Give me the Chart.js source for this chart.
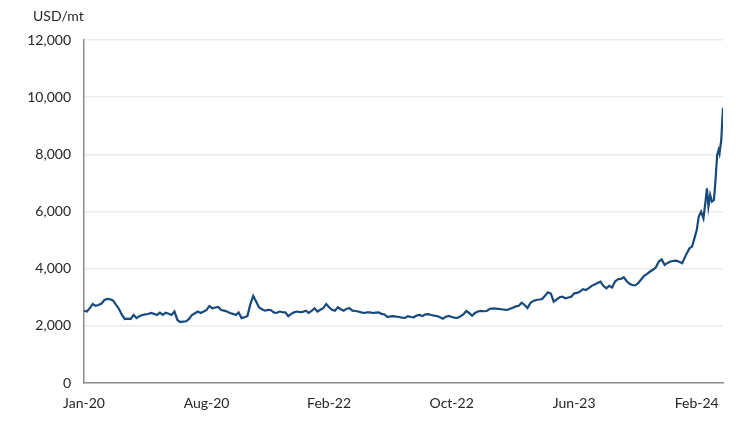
<!DOCTYPE html>
<html>
<head>
<meta charset="utf-8">
<script src="https://cdn.jsdelivr.net/npm/chart.js@4"></script>
<style>
html,body{margin:0;padding:0;background:#fff;}
#wrap{width:750px;height:422px;position:relative;}
</style>
</head>
<body>
<div id="wrap"><canvas id="c"></canvas></div>
<script>
// Week index since Jan-2020 (x position) and cocoa price (USD/mt)
const weeks = [
  0,1,2,3,4,5,6,7,8,9,10,11,12,13,14,15,16,17,18,19,
  20,21,22,23,24,25,26,27,28,29,30,31,32,33,34,35,36,37,38,39,
  40,41,42,43,44,45,46,47,48,49,50,51,52,53,54,55,56,57,58,59,
  60,61,62,63,64,65,66,67,68,69,70,71,72,73,74,75,76,77,78,79,
  80,81,82,83,84,85,86,87,88,89,90,91,92,93,94,95,96,97,98,99,
  100,101,102,103,104,105,106,107,108,109,110,111,112,113,114,115,116,117,118,119,
  120,121,122,123,124,125,126,127,128,129,130,131,132,133,134,135,136,137,138,139,
  140,141,142,143,144,145,146,147,148,149,150,151,152,153,154,155,156,157,158,159,
  160,161,162,163,164,165,166,167,168,169,170,171,172,173,174,175,176,177,178,179,
  180,181,182,183,184,185,186,187,188,189,190,191,192,193,194,195,196,197,198,199,
  200,201,202,203,204,205,206.4,207.5,208.4,209.2,210,210.7,211.5,212.3,213,213.5,214,214.6,215.2,215.9,
  216.4,217,217.5,217.8,218.4,219
];
const prices = [
  2530,2500,2620,2765,2700,2730,2780,2905,2940,2930,2880,2730,2590,2380,2240,2250,2240,2380,2270,2340,
  2380,2400,2415,2450,2420,2380,2460,2380,2460,2420,2380,2500,2205,2135,2150,2160,2240,2380,2440,2500,
  2450,2500,2555,2695,2615,2640,2660,2555,2530,2500,2450,2420,2380,2470,2270,2300,2340,2750,3045,2850,
  2640,2580,2530,2560,2555,2470,2450,2500,2480,2470,2340,2420,2470,2500,2480,2490,2530,2450,2520,2615,
  2500,2560,2615,2765,2650,2560,2530,2650,2580,2530,2600,2615,2530,2520,2500,2470,2450,2470,2470,2450,
  2460,2470,2420,2400,2310,2330,2340,2320,2310,2290,2280,2340,2310,2300,2360,2380,2340,2400,2410,2380,
  2360,2345,2300,2250,2320,2345,2310,2290,2275,2330,2400,2520,2450,2350,2450,2500,2520,2510,2520,2590,
  2610,2600,2590,2580,2570,2555,2600,2635,2680,2700,2810,2730,2620,2800,2870,2905,2920,2940,3050,3170,
  3130,2845,2925,3000,3020,2960,2990,3020,3135,3150,3200,3280,3255,3320,3400,3450,3500,3545,3400,3310,
  3400,3340,3550,3630,3640,3700,3560,3470,3420,3420,3500,3630,3750,3820,3900,3960,4050,4250,4325,4130,
  4200,4250,4270,4280,4245,4190,4500,4710,4770,5060,5350,5820,5995,5760,6345,6810,6170,6580,6345,6405,
  7045,7980,8155,8035,8500,9630
];
const tickWeeks = [0, 42, 84, 126, 168, 210];
const tickLabels = ['Jan-20', 'Aug-20', 'Feb-22', 'Oct-22', 'Jun-23', 'Feb-24'];
const unitLabel = 'USD/mt';

const FONT = 'Lato, "Open Sans", sans-serif';
const TXT = '#262626';

const unitPlugin = {
  id: 'unitLabel',
  afterDraw(chart) {
    const ctx = chart.ctx;
    ctx.save();
    ctx.font = '14px ' + FONT;
    ctx.fillStyle = TXT;
    ctx.textAlign = 'left';
    ctx.textBaseline = 'middle';
    ctx.fillText(unitLabel, 33, 16);
    ctx.restore();
  }
};

new Chart(document.getElementById('c'), {
  type: 'line',
  data: {
    datasets: [{
      data: weeks.map((w, i) => ({ x: w, y: prices[i] })),
      borderColor: '#174a7c',
      borderWidth: 2.2,
      pointRadius: 0,
      tension: 0,
      fill: false
    }]
  },
  options: {
    responsive: true,
    maintainAspectRatio: false,
    animation: false,
    layout: { padding: { top: 40, right: 27, bottom: 0, left: 0 } },
    plugins: { legend: { display: false }, tooltip: { enabled: false } },
    scales: {
      x: {
        type: 'linear',
        min: 0,
        max: 219,
        afterBuildTicks: (s) => { s.ticks = tickWeeks.map(v => ({ value: v })); },
        afterFit: (s) => { s.height = 39; },
        ticks: {
          autoSkip: false,
          maxRotation: 0,
          padding: 12,
          color: TXT,
          font: { family: FONT, size: 14 },
          callback: (v) => tickLabels[tickWeeks.indexOf(v)]
        },
        grid: { display: false, drawTicks: false },
        border: { display: true, color: '#8c8c8c', width: 1.5 }
      },
      y: {
        min: 0,
        max: 12000,
        afterFit: (s) => { s.width = 84; },
        ticks: {
          stepSize: 2000,
          padding: 13,
          color: TXT,
          font: { family: FONT, size: 14 },
          callback: (v) => v.toLocaleString('en-US')
        },
        grid: { color: '#ececec', lineWidth: 1.5, drawTicks: false },
        border: { display: true, color: '#8c8c8c', width: 1.5 }
      }
    }
  },
  plugins: [unitPlugin]
});
</script>
</body>
</html>
